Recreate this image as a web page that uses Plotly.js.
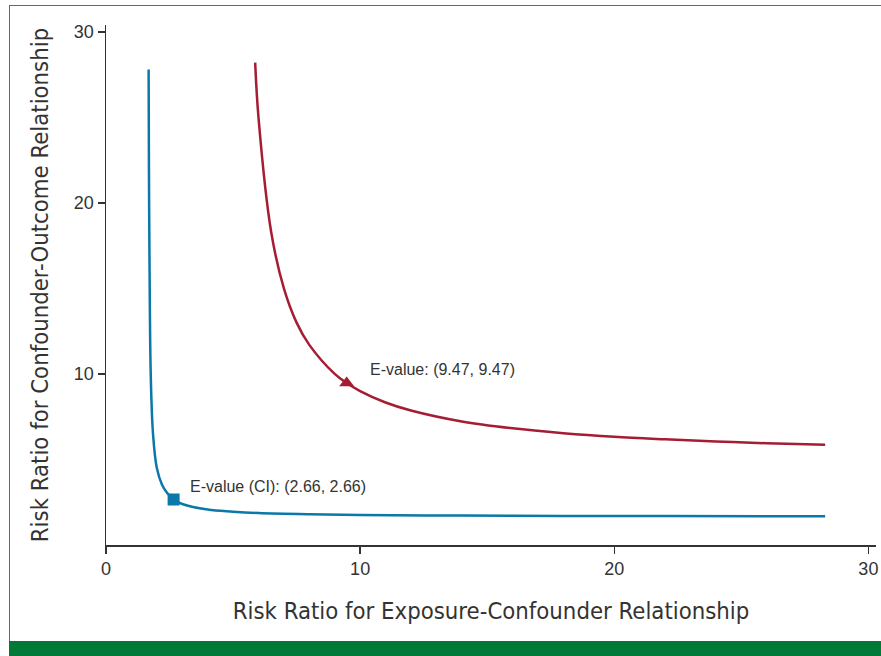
<!DOCTYPE html>
<html>
<head>
<meta charset="utf-8">
<script src="https://cdn.plot.ly/plotly-3.0.1.min.js"></script>
<style>
html,body{margin:0;padding:0;background:#fff;}
#wrap{position:relative;width:881px;height:656px;overflow:hidden;}
#chart{position:absolute;left:0;top:0;width:881px;height:656px;}
#frame{position:absolute;left:9px;top:5px;width:900px;height:700px;border-left:1.5px solid #2e8b4e;border-top:1.5px solid #2e8b4e;pointer-events:none;}
#bar{position:absolute;left:9px;top:641px;width:872px;height:15px;background:#007a36;}
</style>
</head>
<body>
<div id="wrap">
<div id="chart"></div>
<div id="frame"></div>
<div id="bar"></div>
</div>
<script>
// E-value curve (point estimate)
var redX = [5.87, 6.0, 6.5, 7.0, 7.5, 8.0, 9.0, 9.47, 10, 11, 12, 14, 16, 18, 20, 22, 24, 26, 28.3];
var redY = [28.2, 25.0, 18.3, 15.0, 13.0, 11.7, 10.0, 9.47, 9.0, 8.33, 7.86, 7.22, 6.82, 6.54, 6.33, 6.18, 6.05, 5.95, 5.86];
// E-value curve (confidence interval)
var blueX = [1.677, 1.69, 1.71, 1.76, 1.85, 2.0, 2.2, 2.4, 2.66, 3.0, 4, 5, 6, 8, 10, 14, 18, 22, 28.3];
var blueY = [27.8, 21.9, 17.0, 10.0, 6.5, 4.5, 3.54, 3.05, 2.66, 2.4, 2.07, 1.95, 1.87, 1.80, 1.76, 1.72, 1.70, 1.69, 1.68];
// highlighted E-values
var ePoint = [9.47, 9.47];
var ePointCI = [2.66, 2.66];
var ePointLabel = 'E-value: (9.47, 9.47)';
var ePointCILabel = 'E-value (CI): (2.66, 2.66)';
var xTicks = [0, 10, 20, 30];
var yTicks = [10, 20, 30];
var xTitle = 'Risk Ratio for Exposure-Confounder Relationship';
var yTitle = 'Risk Ratio for Confounder-Outcome Relationship';

var red = '#a51c33', blue = '#0a78a8';
var traces = [
  {x: redX, y: redY, mode: 'lines', line: {color: red, width: 2.5, shape: 'spline'}, hoverinfo: 'none'},
  {x: blueX, y: blueY, mode: 'lines', line: {color: blue, width: 2.5, shape: 'spline'}, hoverinfo: 'none'},
  {x: [ePoint[0]], y: [ePoint[1]], mode: 'markers', marker: {symbol: 'triangle-up', size: 13, color: red}},
  {x: [ePointCI[0]], y: [ePointCI[1]], mode: 'markers', marker: {symbol: 'square', size: 12, color: blue}}
];
var tickFont = {family: 'Liberation Sans, Arial, sans-serif', size: 18, color: '#333'};
var titleFont = {family: 'DejaVu Sans Condensed, sans-serif', size: 23.7, color: '#333'};
var annFont = {family: 'Liberation Sans, Arial, sans-serif', size: 16, color: '#333'};
var layout = {
  width: 881, height: 656,
  margin: {l: 106, r: 5, t: 25, b: 111},
  paper_bgcolor: 'rgba(0,0,0,0)', plot_bgcolor: 'rgba(0,0,0,0)',
  showlegend: false,
  xaxis: {range: [0, 30.3], tickvals: xTicks, ticktext: xTicks.map(String), showgrid: false, zeroline: false,
    showline: true, linecolor: '#333', linewidth: 1.5, ticks: 'outside', ticklen: 7, tickcolor: '#333', tickwidth: 1.5,
    tickfont: tickFont, title: {text: xTitle, font: titleFont, standoff: 24}},
  yaxis: {range: [0, 30.4], tickvals: yTicks, ticktext: yTicks.map(String), showgrid: false, zeroline: false,
    showline: true, linecolor: '#333', linewidth: 1.5, ticks: 'outside', ticklen: 7, tickcolor: '#333', tickwidth: 1.5,
    tickfont: tickFont, title: {text: yTitle, font: titleFont, standoff: 18}},
  annotations: [
    {x: ePoint[0], y: ePoint[1], text: ePointLabel, showarrow: false, xanchor: 'left', yanchor: 'middle', xshift: 21, yshift: 14,
      font: annFont},
    {x: ePointCI[0], y: ePointCI[1], text: ePointCILabel, showarrow: false, xanchor: 'left', yanchor: 'middle', xshift: 14, yshift: 13,
      font: annFont}
  ]
};
Plotly.newPlot('chart', traces, layout, {displayModeBar: false, staticPlot: true});
</script>
</body>
</html>
